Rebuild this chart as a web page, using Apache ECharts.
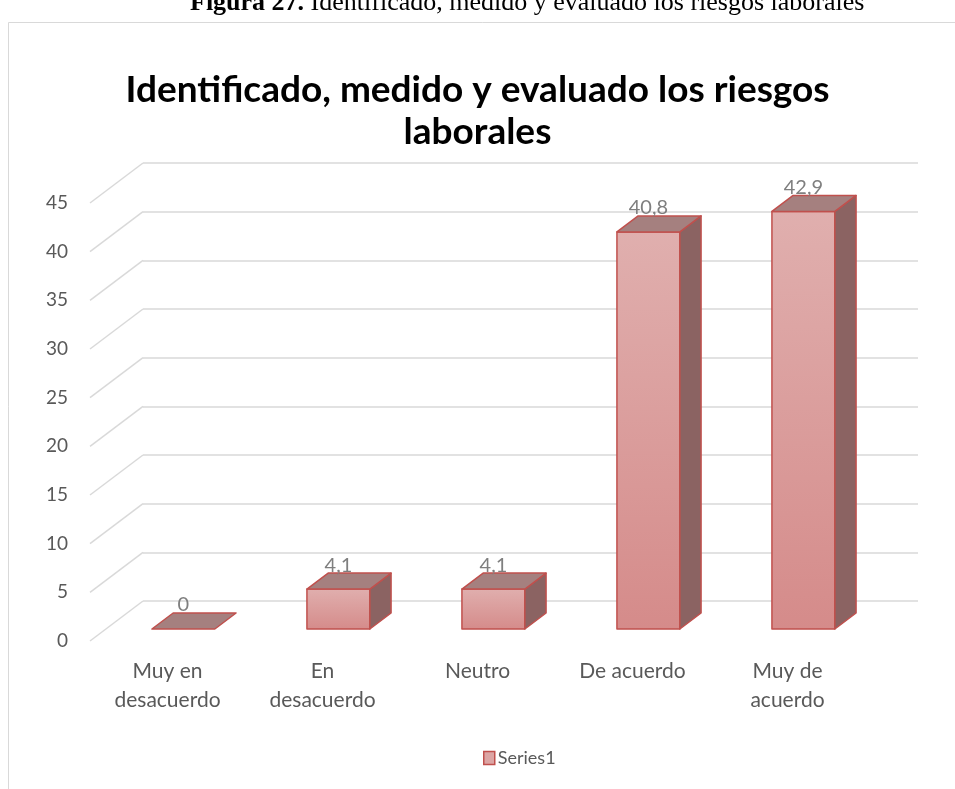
<!DOCTYPE html>
<html>
<head>
<meta charset="utf-8">
<script src="https://cdn.jsdelivr.net/npm/echarts@6/dist/echarts.min.js"></script>
<style>
  html, body { margin: 0; padding: 0; background: #fff; }
  #chart { width: 955px; height: 789px; }
</style>
</head>
<body>
<div id="chart"></div>
<script>
(() => {
  const categories = ['Muy en\ndesacuerdo', 'En\ndesacuerdo', 'Neutro', 'De acuerdo', 'Muy de\nacuerdo'];
  const values = [0, 4.1, 4.1, 40.8, 42.9];
  const valueLabels = ['0', '4,1', '4,1', '40,8', '42,9'];
  const yTicks = [0, 5, 10, 15, 20, 25, 30, 35, 40, 45];

  const FONT = 'Lato, "Open Sans", sans-serif';
  const SERIF = '"Liberation Serif", "Times New Roman", serif';
  // oblique depth of the floor (front plane -> back wall)
  const DX = 53;
  const DY = -40;
  const F0 = 0.3; // bar front at this share of the depth
  const F1 = 0.7; // bar back
  const BAR_W = 0.406; // share of band

  const front = { left: 90, top: 203, width: 775, height: 438 };
  const back = { left: front.left + DX, top: front.top + DY, width: 775, height: 438 };

  const chart = echarts.init(document.getElementById('chart'), null, { renderer: 'canvas' });

  function renderWall(params, api) {
    const t = api.value(0);
    const band = api.size([1, 0])[0];
    const p = api.coord([0, t]);
    const x = p[0] - band / 2;
    return {
      type: 'line',
      shape: { x1: x, y1: p[1], x2: x + DX, y2: p[1] + DY },
      style: { stroke: '#d9d9d9', lineWidth: 1.5 },
      silent: true,
    };
  }

  function renderBox(params, api) {
    const i = api.value(0);
    const v = api.value(1);
    const band = api.size([1, 0])[0];
    const w = band * BAR_W;
    const base = api.coord([i, 0]);
    const top = api.coord([i, v]);
    const cx = base[0] + F0 * DX;
    const x0 = cx - w / 2;
    const x1 = cx + w / 2;
    const yt = top[1] + F0 * DY;
    const yb = base[1] + F0 * DY;
    const ddx = (F1 - F0) * DX;
    const ddy = (F1 - F0) * DY;
    const stroke = '#c0504d';
    const children = [];
    if (yb - yt > 0.5) {
      children.push({
        type: 'rect',
        shape: { x: x0, y: yt, width: w, height: yb - yt },
        style: {
          fill: new echarts.graphic.LinearGradient(0, 0, 0, 1, [
            { offset: 0, color: '#e0afae' },
            { offset: 1, color: '#d58b8a' },
          ]),
          stroke, lineWidth: 1.5, lineJoin: 'round',
        },
      });
      children.push({
        type: 'polygon',
        shape: { points: [[x1, yt], [x1 + ddx, yt + ddy], [x1 + ddx, yb + ddy], [x1, yb]] },
        style: { fill: '#8b6362', stroke, lineWidth: 1.5, lineJoin: 'round' },
      });
    }
    children.push({
      type: 'polygon',
      shape: { points: [[x0, yt], [x1, yt], [x1 + ddx, yt + ddy], [x0 + ddx, yt + ddy]] },
      style: { fill: '#a5807f', stroke, lineWidth: 1.5, lineJoin: 'round' },
    });
    children.push({
      type: 'text',
      style: {
        text: valueLabels[params.dataIndex],
        x: cx,
        y: top[1] + F1 * DY - 8,
        align: 'center',
        verticalAlign: 'middle',
        fill: '#7f7f7f',
        font: '20px ' + FONT,
      },
    });
    return { type: 'group', children };
  }

  chart.setOption({
    backgroundColor: '#fff',
    animation: false,
    title: {
      text: 'Identificado, medido y evaluado los riesgos\nlaborales',
      left: 'center',
      top: 64,
      textStyle: { fontFamily: FONT, fontSize: 37, fontWeight: 'bold', color: '#000', lineHeight: 42 },
    },
    graphic: [
      {
        type: 'rect',
        shape: { x: 8.5, y: 22.5, width: 960, height: 800 },
        style: { fill: 'none', stroke: '#d9d9d9', lineWidth: 1 },
        silent: true,
        z: -1,
      },
      {
        type: 'text',
        left: 190,
        top: -10,
        style: {
          text: '{b|Figura 27.} Identificado, medido y evaluado los riesgos laborales',
          font: '26px ' + SERIF,
          fill: '#000',
          rich: {
            b: { font: 'bold 26px ' + SERIF, fill: '#000' },
          },
        },
      },
    ],
    legend: {
      data: ['Series1'],
      left: 483,
      top: 749,
      padding: 0,
      icon: 'rect',
      itemWidth: 11,
      itemHeight: 13,
      itemGap: 3,
      textStyle: { fontFamily: FONT, fontSize: 18, color: '#595959', padding: [0, 0, 0, -2] },
      itemStyle: { color: '#dca5a4', borderColor: '#c0504d', borderWidth: 1.5 },
    },
    grid: [
      Object.assign({ containLabel: false }, back),
      Object.assign({ containLabel: false }, front),
    ],
    xAxis: [
      { type: 'category', gridIndex: 0, data: categories, show: false },
      {
        type: 'category', gridIndex: 1, data: categories,
        axisLine: { show: false }, axisTick: { show: false },
        axisLabel: { margin: 16, fontFamily: FONT, fontSize: 21, color: '#595959', lineHeight: 29, interval: 0 },
      },
    ],
    yAxis: [
      {
        type: 'value', gridIndex: 0, min: 0, max: 45, interval: 5,
        axisLine: { show: false }, axisTick: { show: false }, axisLabel: { show: false },
        splitLine: { lineStyle: { color: '#d9d9d9', width: 1.5 } },
      },
      {
        type: 'value', gridIndex: 1, min: 0, max: 45, interval: 5,
        axisLine: { show: false }, axisTick: { show: false },
        splitLine: { show: false },
        axisLabel: { margin: 22, fontFamily: FONT, fontSize: 19, color: '#595959', padding: [4, 0, 0, 0] },
      },
    ],
    series: [
      {
        name: 'walls',
        type: 'custom',
        xAxisIndex: 1, yAxisIndex: 1,
        data: yTicks.map((t) => [t]),
        renderItem: renderWall,
        silent: true,
        z: 1,
      },
      {
        name: 'Series1',
        type: 'custom',
        xAxisIndex: 1, yAxisIndex: 1,
        itemStyle: { color: '#dca5a4' },
        data: values.map((v, i) => [i, v]),
        encode: { x: 0, y: 1 },
        renderItem: renderBox,
        z: 2,
      },
    ],
  });
})();
</script>
</body>
</html>
